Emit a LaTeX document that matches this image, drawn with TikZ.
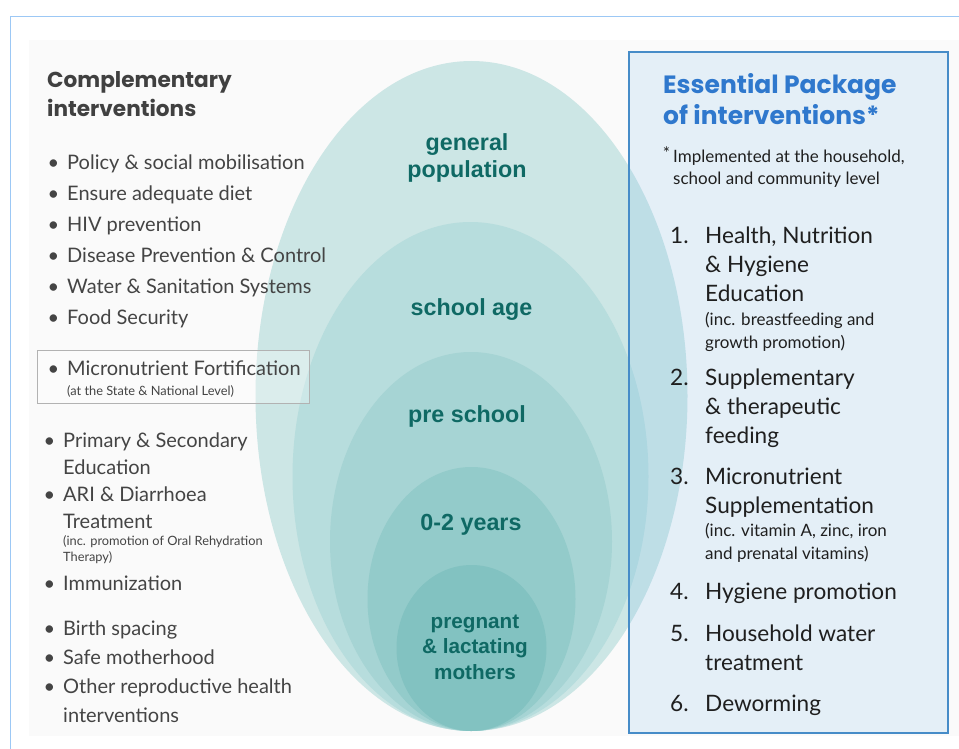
\documentclass[tikz,border=0pt]{standalone}
\usepackage{fontspec}
\setmainfont{Lato}
\newfontfamily\headfont{Poppins}
\newfontfamily\agefont{Liberation Sans}
\usetikzlibrary{positioning}
\definecolor{framebl}{RGB}{156,200,245}
\definecolor{headgrey}{RGB}{64,64,64}
\definecolor{listgrey}{RGB}{68,68,68}
\definecolor{boxline}{RGB}{70,140,200}
\definecolor{boxfill}{RGB}{134,192,239}
\definecolor{boxtitle}{RGB}{47,120,205}
\definecolor{agetext}{RGB}{15,105,100}
\definecolor{ringa}{RGB}{204,230,229}
\definecolor{ringb}{RGB}{183,221,221}
\definecolor{ringc}{RGB}{166,212,212}
\definecolor{ringd}{RGB}{147,203,202}
\definecolor{ringe}{RGB}{130,194,193}
\tikzstyle{headtxt}=[anchor=base west,inner sep=0pt,align=left,text=headgrey,
                     font=\headfont\bfseries\fontsize{21.6}{29}\selectfont]
\tikzstyle{boxhead}=[anchor=base west,inner sep=0pt,align=left,text=boxtitle,
                     font=\headfont\bfseries\fontsize{25}{32}\selectfont]
\tikzstyle{leftitem}=[anchor=base west,inner sep=0pt,align=left,text=listgrey,
                      font=\fontsize{20}{31}\selectfont]
\tikzstyle{leftnote}=[anchor=base west,inner sep=0pt,align=left,text=listgrey,
                      font=\fontsize{12.8}{16}\selectfont]
\tikzstyle{pkgitem}=[anchor=base west,inner sep=0pt,align=left,text=black!88,
                     font=\fontsize{22.6}{28.7}\selectfont]
\tikzstyle{pkgnote}=[anchor=base west,inner sep=0pt,align=left,text=black!88,
                     font=\fontsize{17}{23}\selectfont]
\tikzstyle{agelbl}=[anchor=base,inner sep=0pt,align=center,text=agetext,
                    font=\agefont\bfseries\fontsize{23.3}{27}\selectfont]
\newcommand{\bul}{\llap{\textbullet\hspace{8pt}}}
\newcommand{\num}[1]{\llap{\makebox[35pt][l]{#1}}}

\begin{document}
\begin{tikzpicture}[x=1pt,y=-1pt]
  \useasboundingbox (0,0) rectangle (959,749);
  \fill[white] (0,0) rectangle (959,749);
  \fill[black!2] (29,40) rectangle (959,736);
  \draw[framebl,line width=1pt] (10,749) -- (10,17) -- (959,17);

  % nested population groups
  \fill[ringa] (471.5,396) ellipse [x radius=216pt,y radius=335pt];
  \fill[ringb] (470.5,476.5) ellipse [x radius=178pt,y radius=254.5pt];
  \fill[ringc] (471,541.5) ellipse [x radius=141pt,y radius=189.5pt];
  \fill[ringd] (471.5,599) ellipse [x radius=104pt,y radius=132pt];
  \fill[ringe] (471.5,648) ellipse [x radius=75pt,y radius=83pt];

  % labels sit on the baseline of their last line
  \node[agelbl] (gen) at (467,178) {general\\population};
  \node[agelbl] (school) at (471.5,315) {school age};
  \node[agelbl] (pre) at (467,422) {pre school};
  \node[agelbl] (baby) at (471,530) {0-2 years};
  \node[agelbl,font=\agefont\bfseries\fontsize{20.7}{25.5}\selectfont]
       (mums) at (475,679) {pregnant\\\& lactating\\mothers};

  % complementary side
  \node[headtxt] (comp) at (47,117) {Complementary\\interventions};
  \node[leftitem] (grpa) at (67,324) {\bul Policy \& social mobilisation\\
    \bul Ensure adequate diet\\ \bul HIV prevention\\
    \bul Disease Prevention \& Control\\ \bul Water \& Sanitation Systems\\
    \bul Food Security};
  \draw[black!30,fill=white,fill opacity=0.3] (37,350) rectangle (309,403);
  \node[leftitem] (fort) at (67,375) {\bul Micronutrient Fortification};
  \node[leftnote] (fortn) at (67,395) {(at the State \& National Level)};
  \node[leftitem,font=\fontsize{20}{27}\selectfont] (grpb) at (63,528)
       {\bul Primary \& Secondary\\Education\\ \bul ARI \& Diarrhoea\\Treatment};
  \node[leftnote] (arin) at (63,561) {(inc. promotion of Oral Rehydration\\Therapy)};
  \node[leftitem] (immu) at (63,590) {\bul Immunization};
  \node[leftitem,font=\fontsize{20}{29}\selectfont] (grpc) at (63,722)
       {\bul Birth spacing\\ \bul Safe motherhood\\
        \bul Other reproductive health\\interventions};

  % essential package box
  \draw[boxline,line width=1.2pt,fill=boxfill,fill opacity=0.19] (629,52) rectangle (948,733);
  \node[boxhead] (ess) at (663,125) {Essential Package\\of interventions*};
  \node[pkgnote,font=\fontsize{17}{22}\selectfont] (note) at (673,185)
       {\llap{\raisebox{3pt}{*}\hspace{3pt}}Implemented at the household,\\school and community level};
  \node[pkgitem] (p1) at (705,301) {\num{1.}Health, Nutrition\\\& Hygiene\\Education};
  \node[pkgnote] (p1n) at (705,348) {(inc. breastfeeding and\\growth promotion)};
  \node[pkgitem] (p2) at (705,443) {\num{2.}Supplementary\\\& therapeutic\\feeding};
  \node[pkgitem] (p3) at (705,513) {\num{3.}Micronutrient\\Supplementation};
  \node[pkgnote] (p3n) at (705,559) {(inc. vitamin A, zinc, iron\\and prenatal vitamins)};
  \node[pkgitem] (p4) at (705,599) {\num{4.}Hygiene promotion};
  \node[pkgitem] (p5) at (705,670) {\num{5.}Household water\\treatment};
  \node[pkgitem] (p6) at (705,711) {\num{6.}Deworming};
\end{tikzpicture}
\end{document}
